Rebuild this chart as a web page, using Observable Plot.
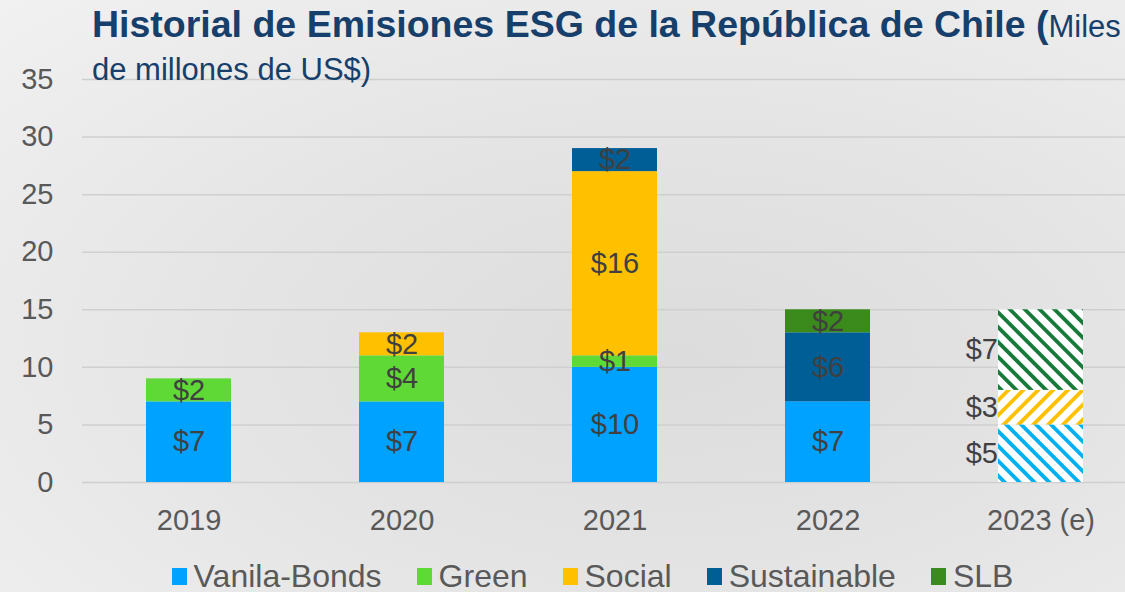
<!DOCTYPE html>
<html>
<head>
<meta charset="utf-8">
<script src="https://cdn.jsdelivr.net/npm/d3@7"></script>
<script src="https://cdn.jsdelivr.net/npm/@observablehq/plot@0.6"></script>
<style>
  html, body { margin: 0; padding: 0; overflow: hidden; width: 1125px; height: 592px; }
  body {
    position: relative;
    font-family: "Liberation Sans", Arial, sans-serif;
    background: radial-gradient(ellipse at 60% 60%, #dcdcdc 0%, #e4e4e4 45%, #f1f1f1 100%);
  }
  #title {
    position: absolute; left: 92px; top: 1px; width: 1040px;
    color: #173F6B; z-index: 2; white-space: nowrap;
  }
  #title .l1 { font-size: 31px; line-height: 46px; }
  #title .l1 b { font-weight: bold; font-size: 37.5px; }
  #title .l2 { font-size: 31px; line-height: 36px; margin-top: 2px; }
  #legend {
    display: flex; justify-content: center; gap: 35px;
    font-size: 32px; color: #595959; height: 37px; line-height: 37px;
    margin-left: 60px; margin-top: 3px; white-space: nowrap;
  }
  #legend .it { display: flex; align-items: center; gap: 7px; }
  #legend .sw { width: 15px; height: 17px; display: inline-block; }
</style>
</head>
<body>
<div id="title"><div class="l1"><b>Historial de Emisiones ESG de la República de Chile (</b>Miles</div><div class="l2">de millones de US$)</div></div>
<div id="chart"></div>
<div id="legend"></div>
<script>
const years = ["2019", "2020", "2021", "2022", "2023 (e)"];
const series = ["Vanila-Bonds", "Green", "Social", "Sustainable", "SLB"];
const vanilaBonds = [7, 7, 10, 7, 5];
const green = [2, 4, 1, 0, 0];
const social = [0, 2, 16, 0, 3];
const sustainable = [0, 0, 2, 6, 0];
const slb = [0, 0, 0, 2, 7];
const estimated = [false, false, false, false, true];
const colors = ["#00A2FF", "#5FD935", "#FFC000", "#005E96", "#3A8A1C"];
const hatchColors = ["#00B0F0", "#5FD935", "#FFC000", "#005E96", "#177A3A"];
const hatchDir = [-45, -45, 45, -45, -45];
const yTicks = [0, 5, 10, 15, 20, 25, 30, 35];

const valuesBySeries = [vanilaBonds, green, social, sustainable, slb];
const rows = [];
years.forEach((yr, i) => {
  series.forEach((s, j) => {
    rows.push({
      year: yr, series: s, value: valuesBySeries[j][i], est: estimated[i],
      fill: estimated[i] ? `url(#hatch${j})` : colors[j]
    });
  });
});
const shown = rows.filter(d => d.value > 0);
const fmt = d => "$" + d.value;

const plot = Plot.plot({
  width: 1125,
  height: 555,
  marginLeft: 82,
  marginRight: 0,
  marginTop: 79,
  marginBottom: 73,
  style: { background: "transparent", fontFamily: "'Liberation Sans', Arial, sans-serif" },
  x: { domain: years, range: [82.5, 1147.5], paddingInner: 0.6, paddingOuter: 0.3, label: null },
  y: { domain: [0, 35], label: null },
  color: { type: "identity" },
  marks: [
    Plot.ruleY(yTicks, { stroke: "#cfcfcf", strokeWidth: 1.5 }),
    Plot.axisY(yTicks, { tickSize: 0, tickPadding: 29, fontSize: 29, fill: "#595959", label: null }),
    Plot.axisX({ tickSize: 0, tickPadding: 27, fontSize: 29, fill: "#595959", label: null }),
    Plot.barY(shown, Plot.stackY({ x: "year", y: "value", z: "series", fill: "fill" })),
    Plot.text(shown.filter(d => !d.est), Plot.stackY({
      x: "year", y: "value", z: "series", text: fmt,
      fontSize: 29, fill: "#404040"
    })),
    Plot.text(shown.filter(d => d.est), Plot.stackY({
      x: "year", y: "value", z: "series", text: fmt,
      fontSize: 29, fill: "#404040", textAnchor: "end", dx: -43
    }))
  ]
});

const svg = d3.select(plot);
const defs = svg.insert("defs", ":first-child");
hatchColors.forEach((c, j) => {
  const p = defs.append("pattern")
    .attr("id", `hatch${j}`)
    .attr("patternUnits", "userSpaceOnUse")
    .attr("width", 10.5).attr("height", 10.5)
    .attr("patternTransform", `rotate(${hatchDir[j]})`);
  p.append("rect").attr("width", 10.5).attr("height", 10.5).attr("fill", "white");
  p.append("rect").attr("width", 3.8).attr("height", 10.5).attr("fill", c);
});
document.getElementById("chart").appendChild(plot);

const legend = d3.select("#legend");
series.forEach((s, j) => {
  const it = legend.append("div").attr("class", "it");
  it.append("span").attr("class", "sw").style("background", colors[j]);
  it.append("span").text(s);
});
</script>
</body>
</html>
